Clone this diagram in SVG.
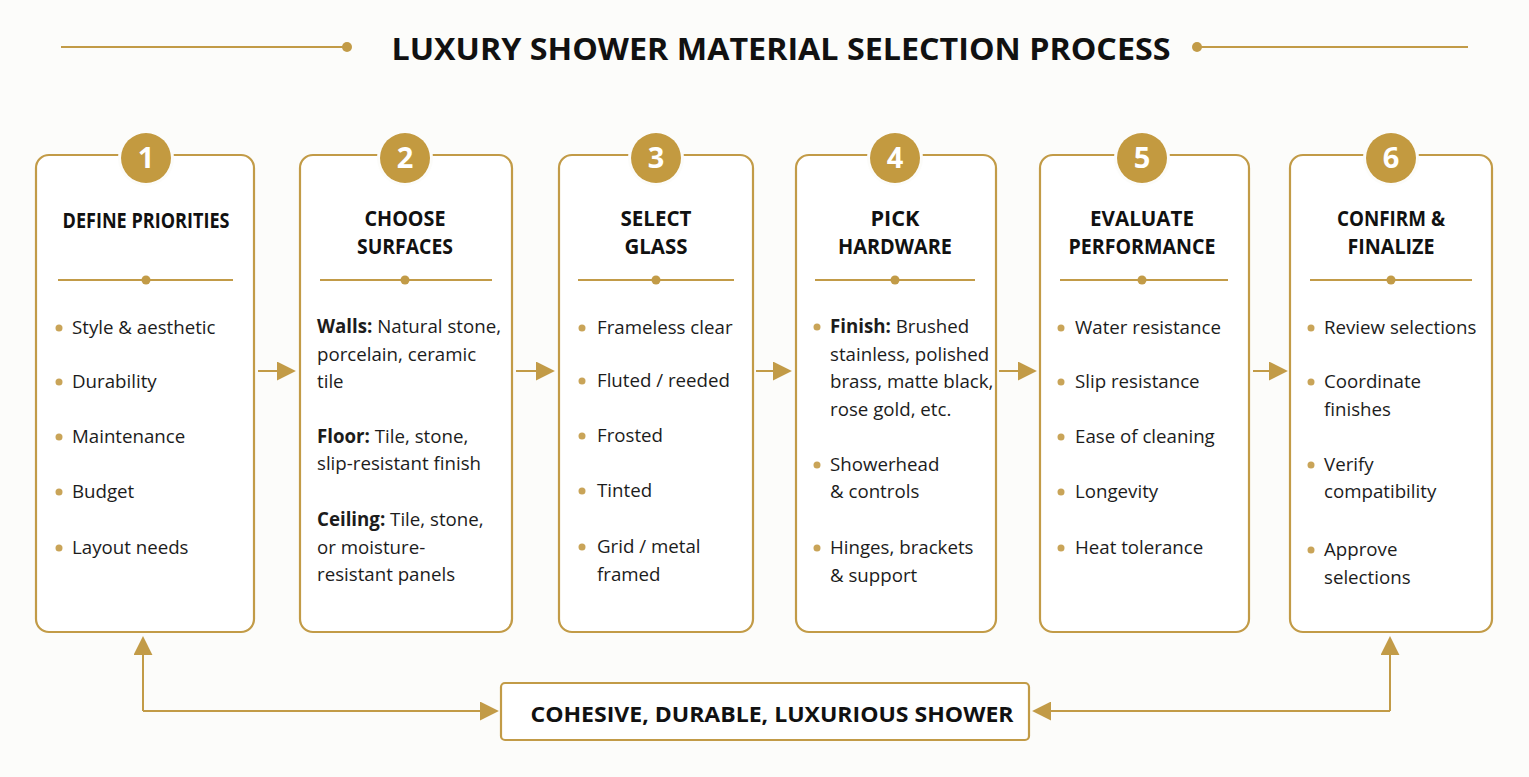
<svg xmlns="http://www.w3.org/2000/svg" width="1529" height="777" viewBox="0 0 1529 777">
<defs>
<style>
.card{fill:#ffffff;stroke:#C29B47;stroke-width:2.2}
.num{fill:#C39A40}
.numt{font-family:"Open Sans","Noto Sans",sans-serif;font-weight:700;font-size:29px;fill:#ffffff;text-anchor:middle}
.hd{font-family:"Open Sans","Noto Sans",sans-serif;font-weight:700;font-size:21px;fill:#111111;text-anchor:middle}
.tx{font-family:"Open Sans","Noto Sans",sans-serif;font-size:18.7px;fill:#1c1c1c}
.b{font-weight:700}
.gl{stroke:#C29B47;stroke-width:2;fill:none}
.dot{fill:#C29B47}
.bul{fill:#C9A458}
.title{font-family:"Open Sans","Noto Sans",sans-serif;font-weight:700;font-size:31px;fill:#111111;text-anchor:middle}
</style>
<marker id="ah2" viewBox="0 0 10 10" refX="9" refY="5" markerWidth="19" markerHeight="19" orient="auto" markerUnits="userSpaceOnUse">
<path d="M0,0 L10,5 L0,10 z" fill="#C29B47"/>
</marker>
</defs>
<rect width="1529" height="777" fill="#FCFCFA"/>

<g id="title">
<line class="gl" x1="61" y1="47" x2="347" y2="47"/>
<circle class="dot" cx="347" cy="47" r="5"/>
<line class="gl" x1="1197" y1="47" x2="1468" y2="47"/>
<circle class="dot" cx="1197" cy="47" r="5"/>
<text class="title" x="781" y="60" textLength="779" lengthAdjust="spacingAndGlyphs">LUXURY SHOWER MATERIAL SELECTION PROCESS</text>
</g>

<g id="connectors">
<line class="gl" x1="258" y1="371" x2="294" y2="371" marker-end="url(#ah2)"/>
<line class="gl" x1="516" y1="371" x2="553" y2="371" marker-end="url(#ah2)"/>
<line class="gl" x1="756" y1="371" x2="790" y2="371" marker-end="url(#ah2)"/>
<line class="gl" x1="999" y1="371" x2="1035" y2="371" marker-end="url(#ah2)"/>
<line class="gl" x1="1253" y1="371" x2="1286" y2="371" marker-end="url(#ah2)"/>
<path class="gl" d="M143,711 L143,638" marker-end="url(#ah2)"/>
<path class="gl" d="M143,711 L497,711" marker-end="url(#ah2)"/>
<path class="gl" d="M1390,711 L1390,638" marker-end="url(#ah2)"/>
<path class="gl" d="M1390,711 L1034,711" marker-end="url(#ah2)"/>
</g>

<g id="step1">
<rect class="card" x="36" y="155" width="218" height="477" rx="13"/>
<circle cx="146" cy="158" r="28" fill="#FCFCFA"/>
<circle class="num" cx="146" cy="158" r="25"/>
<text class="numt" x="146" y="168">1</text>
<text class="hd" x="146" y="228" textLength="167" lengthAdjust="spacingAndGlyphs">DEFINE PRIORITIES</text>
<line class="gl" x1="58" y1="280" x2="233" y2="280"/>
<circle class="dot" cx="146" cy="280" r="4.5"/>
<circle class="bul" cx="59" cy="328" r="3.5"/><text class="tx" x="72" y="334">Style &amp; aesthetic</text>
<circle class="bul" cx="59" cy="382" r="3.5"/><text class="tx" x="72" y="388">Durability</text>
<circle class="bul" cx="59" cy="437" r="3.5"/><text class="tx" x="72" y="443">Maintenance</text>
<circle class="bul" cx="59" cy="492" r="3.5"/><text class="tx" x="72" y="498">Budget</text>
<circle class="bul" cx="59" cy="548" r="3.5"/><text class="tx" x="72" y="554">Layout needs</text>
</g>

<g id="step2">
<rect class="card" x="300" y="155" width="212" height="477" rx="13"/>
<circle cx="405" cy="158" r="28" fill="#FCFCFA"/>
<circle class="num" cx="405" cy="158" r="25"/>
<text class="numt" x="405" y="168">2</text>
<text class="hd" x="405" y="226" textLength="81" lengthAdjust="spacingAndGlyphs">CHOOSE</text>
<text class="hd" x="405" y="254" textLength="96" lengthAdjust="spacingAndGlyphs">SURFACES</text>
<line class="gl" x1="320" y1="280" x2="492" y2="280"/>
<circle class="dot" cx="405" cy="280" r="4.5"/>
<text class="tx" x="317" y="333"><tspan class="b">Walls:</tspan> Natural stone,</text>
<text class="tx" x="317" y="361">porcelain, ceramic</text>
<text class="tx" x="317" y="388">tile</text>
<text class="tx" x="317" y="443"><tspan class="b">Floor:</tspan> Tile, stone,</text>
<text class="tx" x="317" y="470">slip-resistant finish</text>
<text class="tx" x="317" y="526"><tspan class="b">Ceiling:</tspan> Tile, stone,</text>
<text class="tx" x="317" y="554">or moisture-</text>
<text class="tx" x="317" y="581">resistant panels</text>
</g>

<g id="step3">
<rect class="card" x="559" y="155" width="194" height="477" rx="13"/>
<circle cx="656" cy="158" r="28" fill="#FCFCFA"/>
<circle class="num" cx="656" cy="158" r="25"/>
<text class="numt" x="656" y="168">3</text>
<text class="hd" x="656" y="226" textLength="71" lengthAdjust="spacingAndGlyphs">SELECT</text>
<text class="hd" x="656" y="254" textLength="63" lengthAdjust="spacingAndGlyphs">GLASS</text>
<line class="gl" x1="578" y1="280" x2="734" y2="280"/>
<circle class="dot" cx="656" cy="280" r="4.5"/>
<circle class="bul" cx="582" cy="328" r="3.5"/><text class="tx" x="597" y="334">Frameless clear</text>
<circle class="bul" cx="582" cy="381" r="3.5"/><text class="tx" x="597" y="387">Fluted / reeded</text>
<circle class="bul" cx="582" cy="436" r="3.5"/><text class="tx" x="597" y="442">Frosted</text>
<circle class="bul" cx="582" cy="491" r="3.5"/><text class="tx" x="597" y="497">Tinted</text>
<circle class="bul" cx="582" cy="547" r="3.5"/><text class="tx" x="597" y="553">Grid / metal</text>
<text class="tx" x="597" y="581">framed</text>
</g>

<g id="step4">
<rect class="card" x="796" y="155" width="200" height="477" rx="13"/>
<circle cx="895" cy="158" r="28" fill="#FCFCFA"/>
<circle class="num" cx="895" cy="158" r="25"/>
<text class="numt" x="895" y="168">4</text>
<text class="hd" x="895" y="226" textLength="49" lengthAdjust="spacingAndGlyphs">PICK</text>
<text class="hd" x="895" y="254" textLength="114" lengthAdjust="spacingAndGlyphs">HARDWARE</text>
<line class="gl" x1="815" y1="280" x2="975" y2="280"/>
<circle class="dot" cx="895" cy="280" r="4.5"/>
<circle class="bul" cx="817" cy="327" r="3.5"/><text class="tx" x="830" y="333"><tspan class="b">Finish:</tspan> Brushed</text>
<text class="tx" x="830" y="361">stainless, polished</text>
<text class="tx" x="830" y="388">brass, matte black,</text>
<text class="tx" x="830" y="416">rose gold, etc.</text>
<circle class="bul" cx="817" cy="465" r="3.5"/><text class="tx" x="830" y="471">Showerhead</text>
<text class="tx" x="830" y="498">&amp; controls</text>
<circle class="bul" cx="817" cy="548" r="3.5"/><text class="tx" x="830" y="554">Hinges, brackets</text>
<text class="tx" x="830" y="582">&amp; support</text>
</g>

<g id="step5">
<rect class="card" x="1040" y="155" width="209" height="477" rx="13"/>
<circle cx="1142" cy="158" r="28" fill="#FCFCFA"/>
<circle class="num" cx="1142" cy="158" r="25"/>
<text class="numt" x="1142" y="168">5</text>
<text class="hd" x="1142" y="226" textLength="104" lengthAdjust="spacingAndGlyphs">EVALUATE</text>
<text class="hd" x="1142" y="254" textLength="147" lengthAdjust="spacingAndGlyphs">PERFORMANCE</text>
<line class="gl" x1="1060" y1="280" x2="1228" y2="280"/>
<circle class="dot" cx="1142" cy="280" r="4.5"/>
<circle class="bul" cx="1061" cy="328" r="3.5"/><text class="tx" x="1075" y="334">Water resistance</text>
<circle class="bul" cx="1061" cy="382" r="3.5"/><text class="tx" x="1075" y="388">Slip resistance</text>
<circle class="bul" cx="1061" cy="437" r="3.5"/><text class="tx" x="1075" y="443">Ease of cleaning</text>
<circle class="bul" cx="1061" cy="492" r="3.5"/><text class="tx" x="1075" y="498">Longevity</text>
<circle class="bul" cx="1061" cy="548" r="3.5"/><text class="tx" x="1075" y="554">Heat tolerance</text>
</g>

<g id="step6">
<rect class="card" x="1290" y="155" width="202" height="477" rx="13"/>
<circle cx="1391" cy="158" r="28" fill="#FCFCFA"/>
<circle class="num" cx="1391" cy="158" r="25"/>
<text class="numt" x="1391" y="168">6</text>
<text class="hd" x="1391" y="226" textLength="108" lengthAdjust="spacingAndGlyphs">CONFIRM &amp;</text>
<text class="hd" x="1391" y="254" textLength="87" lengthAdjust="spacingAndGlyphs">FINALIZE</text>
<line class="gl" x1="1310" y1="280" x2="1472" y2="280"/>
<circle class="dot" cx="1391" cy="280" r="4.5"/>
<circle class="bul" cx="1311" cy="328" r="3.5"/><text class="tx" x="1324" y="334">Review selections</text>
<circle class="bul" cx="1311" cy="382" r="3.5"/><text class="tx" x="1324" y="388">Coordinate</text>
<text class="tx" x="1324" y="416">finishes</text>
<circle class="bul" cx="1311" cy="465" r="3.5"/><text class="tx" x="1324" y="471">Verify</text>
<text class="tx" x="1324" y="498">compatibility</text>
<circle class="bul" cx="1311" cy="550" r="3.5"/><text class="tx" x="1324" y="556">Approve</text>
<text class="tx" x="1324" y="584">selections</text>
</g>

<g id="result">
<rect class="card" x="501" y="683" width="528" height="57" rx="4"/>
<text class="hd" x="772" y="722" font-size="24" textLength="483" lengthAdjust="spacingAndGlyphs">COHESIVE, DURABLE, LUXURIOUS SHOWER</text>
</g>
</svg>
